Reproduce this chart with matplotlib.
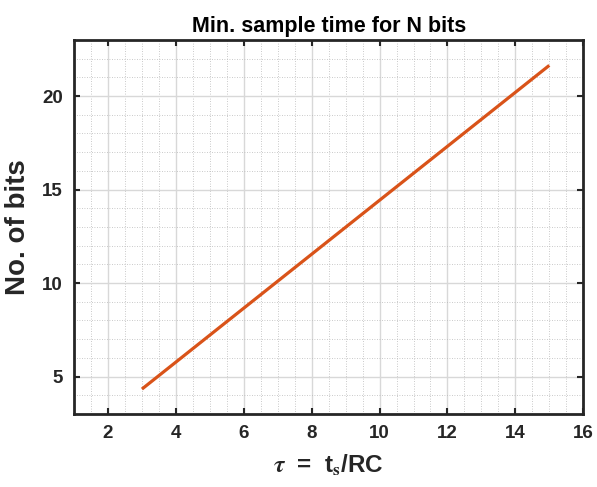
import numpy as np
import matplotlib
matplotlib.use('Agg')
import matplotlib.pyplot as plt
from matplotlib.ticker import MultipleLocator

# values (straight line, endpoints)
tau = [3, 15]
n_bits = [4.33, 21.64]

xticks = [2, 4, 6, 8, 10, 12, 14, 16]
yticks = [5, 10, 15, 20]

plt.rcParams['font.family'] = ['Liberation Sans', 'DejaVu Sans']
plt.rcParams['font.weight'] = 'bold'

fig = plt.figure(figsize=(5.97, 4.87), dpi=100)
ax = fig.add_axes([0.124, 0.150, 0.853, 0.768])

ax.plot(tau, n_bits, color='#D95319', lw=2.3, solid_capstyle='butt')

ax.set_xlim(1, 16)
ax.set_ylim(3, 23)
ax.set_xticks(xticks)
ax.set_yticks(yticks)
ax.xaxis.set_minor_locator(MultipleLocator(0.5))
ax.yaxis.set_minor_locator(MultipleLocator(1))

ax.grid(True, which='major', color='#d8d8d8', lw=1.0, ls='-')
ax.grid(True, which='minor', color='#b8b8b8', lw=0.6, ls=(0, (1, 2)))
ax.set_axisbelow(True)

ax.tick_params(which='major', direction='in', length=4, width=1.5,
               top=True, right=True, labelsize=13.5, colors='#262626', pad=8)
ax.tick_params(which='minor', length=0)
for lbl in ax.get_xticklabels() + ax.get_yticklabels():
    lbl.set_fontweight('bold')
for s in ax.spines.values():
    s.set_linewidth(2)
    s.set_color('#262626')

ax.set_title('Min. sample time for N bits', fontsize=15.5, fontweight='bold', pad=6)
ax.set_xlabel(r'$\tau$  =  t$_{\mathsf{s}}$/RC', fontsize=17.5, fontweight='bold',
              color='#262626', labelpad=8, math_fontfamily='stix')
ax.set_ylabel('No. of bits', fontsize=20, fontweight='bold', color='#262626', labelpad=8)

fig.savefig('out.png', dpi=100)
